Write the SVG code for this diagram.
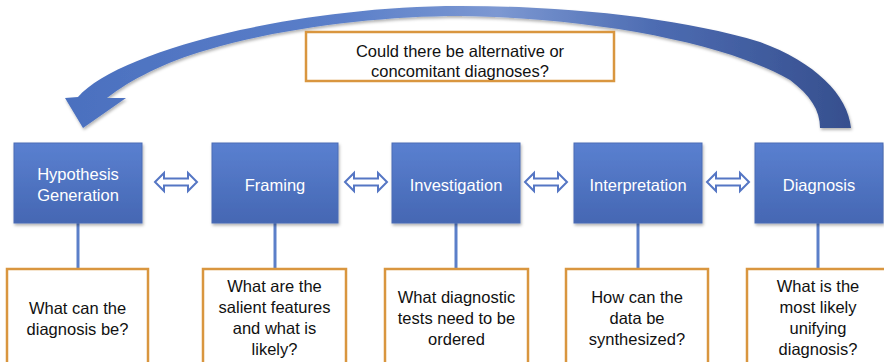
<svg xmlns="http://www.w3.org/2000/svg" width="884" height="362" viewBox="0 0 884 362">
<style>
.node rect{fill:url(#boxg);stroke:#4a6db5;stroke-width:1;filter:url(#sh)}
.node text{fill:#ffffff;font-family:"Liberation Sans",Arial,sans-serif;font-size:16.5px;text-anchor:middle}
.q rect{fill:#ffffff;stroke:#d9963f;stroke-width:2.5}
.q text{fill:#111111;font-family:"Liberation Sans",Arial,sans-serif;font-size:16.5px;text-anchor:middle}
.link{stroke:#5b7fc9;stroke-width:3;fill:none}
.dbl{fill:#ffffff;stroke:#5576c4;stroke-width:2;stroke-linejoin:miter}
</style>
<defs>
<linearGradient id="boxg" x1="0" y1="0" x2="0" y2="1">
<stop offset="0" stop-color="#5a80d0"/>
<stop offset="1" stop-color="#4567b3"/>
</linearGradient>
<linearGradient id="arcg" x1="0" y1="0" x2="1" y2="0">
<stop offset="0" stop-color="#4b70bf"/>
<stop offset="0.35" stop-color="#5b7fc9"/>
<stop offset="0.55" stop-color="#7c98d2"/>
<stop offset="0.75" stop-color="#4d6cb2"/>
<stop offset="1" stop-color="#364f8e"/>
</linearGradient>
<filter id="sh" x="-10%" y="-10%" width="130%" height="130%">
<feDropShadow dx="1" dy="2" stdDeviation="1.5" flood-color="#000" flood-opacity="0.3"/>
</filter>
<path id="dblarrow" d="M-21,0 L-12,-9 L-12,-3.5 L12,-3.5 L12,-9 L21,0 L12,9 L12,3.5 L-12,3.5 L-12,9 Z"/>
</defs>

<g id="feedback-arrow">
<path d="M851,128 C848,95 815,62 760,42 C680,18 570,6 460,6 C380,6 300,17 240,30 C160,48 100,72 78,97 L65,98 L83,128 L126,98 L107,98 C130,80 165,62 207,50 C280,28 380,16 460,16 C600,18 730,45 790,80 C810,95 820,110 820,128 Z" fill="url(#arcg)" filter="url(#sh)"/>
</g>

<g id="q-top" class="q">
<rect x="306" y="32" width="308" height="49"/>
<text x="460" y="57">Could there be alternative or</text>
<text x="460" y="77">concomitant diagnoses?</text>
</g>

<g id="connectors">
<line class="link" x1="78" y1="223" x2="78" y2="269"/>
<line class="link" x1="275" y1="223" x2="275" y2="269"/>
<line class="link" x1="456" y1="223" x2="456" y2="269"/>
<line class="link" x1="638" y1="223" x2="638" y2="269"/>
<line class="link" x1="818" y1="223" x2="818" y2="269"/>
<use href="#dblarrow" class="dbl" x="176" y="182"/>
<use href="#dblarrow" class="dbl" x="366" y="182"/>
<use href="#dblarrow" class="dbl" x="546" y="182"/>
<use href="#dblarrow" class="dbl" x="728" y="182"/>
</g>

<g id="n-hypothesis" class="node">
<rect x="14" y="143" width="128" height="80"/>
<text x="78" y="180">Hypothesis</text>
<text x="78" y="201">Generation</text>
</g>
<g id="n-framing" class="node">
<rect x="212" y="143" width="126" height="80"/>
<text x="275" y="191">Framing</text>
</g>
<g id="n-investigation" class="node">
<rect x="392" y="143" width="128" height="80"/>
<text x="456" y="191">Investigation</text>
</g>
<g id="n-interpretation" class="node">
<rect x="574" y="143" width="128" height="80"/>
<text x="638" y="191">Interpretation</text>
</g>
<g id="n-diagnosis" class="node">
<rect x="755" y="143" width="128" height="80"/>
<text x="819" y="191">Diagnosis</text>
</g>

<g id="q-hypothesis" class="q">
<rect x="7" y="269" width="141" height="110"/>
<text x="77.5" y="314">What can the</text>
<text x="77.5" y="335">diagnosis be?</text>
</g>
<g id="q-framing" class="q">
<rect x="203" y="269" width="143" height="110"/>
<text x="274.5" y="292">What are the</text>
<text x="274.5" y="313">salient features</text>
<text x="274.5" y="334">and what is</text>
<text x="274.5" y="355">likely?</text>
</g>
<g id="q-investigation" class="q">
<rect x="385" y="269" width="143" height="110"/>
<text x="456.5" y="303">What diagnostic</text>
<text x="456.5" y="324">tests need to be</text>
<text x="456.5" y="345">ordered</text>
</g>
<g id="q-interpretation" class="q">
<rect x="566" y="269" width="142" height="110"/>
<text x="637" y="303">How can the</text>
<text x="637" y="324">data be</text>
<text x="637" y="345">synthesized?</text>
</g>
<g id="q-diagnosis" class="q">
<rect x="747" y="269" width="150" height="110"/>
<text x="818" y="292">What is the</text>
<text x="818" y="313">most likely</text>
<text x="818" y="334">unifying</text>
<text x="818" y="355">diagnosis?</text>
</g>
</svg>
